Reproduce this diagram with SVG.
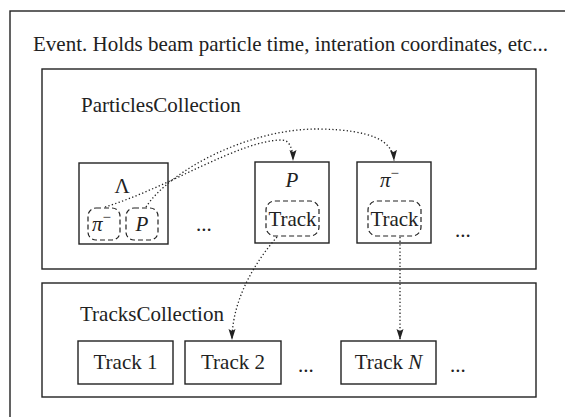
<svg xmlns="http://www.w3.org/2000/svg" width="565" height="417" viewBox="0 0 565 417" font-family="'Liberation Serif', 'Times New Roman', 'DejaVu Serif', serif">
<style>
.box{fill:#fff;stroke:#222;stroke-width:1.4}
.dbox{fill:none;stroke:#222;stroke-width:1.2;stroke-dasharray:5 3}
.t{font-family:'Liberation Serif','Times New Roman',serif;font-size:21px;fill:#222}
.m{text-anchor:middle}
.i{font-style:italic}
.c{fill:none;stroke:#222;stroke-width:1.3;stroke-dasharray:1.3 2.3}
</style>
<defs>
<marker id="ah" markerUnits="userSpaceOnUse" markerWidth="12" markerHeight="8" refX="11" refY="3.5" orient="auto">
<path d="M0,0 L11,3.5 L0,7 L2,3.5 z" fill="#222"/>
</marker>
</defs>
<rect x="0" y="0" width="565" height="417" fill="#fff"/>
<g id="event">
<rect class="box" x="10" y="11" width="600" height="460"/>
<text class="t" x="33" y="51">Event. Holds beam particle time, interation coordinates, etc...</text>
</g>
<g id="particles">
<rect class="box" x="42" y="69" width="494" height="200"/>
<text class="t" x="81" y="112">ParticlesCollection</text>
</g>
<g id="lambda">
<rect class="box" x="79" y="163" width="89" height="81"/>
<text class="t m" x="122" y="193">Λ</text>
<g id="lambda-pi">
<rect class="dbox" x="88" y="208" width="32" height="32" rx="8"/>
<text class="t i" x="92" y="231">π<tspan font-style="normal" font-size="15" dy="-9">−</tspan></text>
</g>
<g id="lambda-p">
<rect class="dbox" x="126" y="208" width="32" height="32" rx="8"/>
<text class="t i m" x="142" y="231">P</text>
</g>
</g>
<text class="t" x="196" y="231">...</text>
<g id="proton">
<rect class="box" x="255" y="162" width="74" height="81"/>
<text class="t i m" x="292" y="187">P</text>
<rect class="dbox" x="266" y="201" width="53" height="35" rx="9"/>
<text class="t m" x="292.5" y="226">Track</text>
</g>
<g id="pion">
<rect class="box" x="357" y="162" width="74" height="81"/>
<text class="t i" x="380" y="187">π<tspan font-style="normal" font-size="15" dy="-9">−</tspan></text>
<rect class="dbox" x="368" y="201" width="53" height="35" rx="9"/>
<text class="t m" x="394.5" y="226">Track</text>
</g>
<text class="t" x="455" y="237">...</text>
<g id="tracks">
<rect class="box" x="42" y="283" width="494" height="114"/>
<text class="t" x="80" y="321">TracksCollection</text>
</g>
<g id="track1">
<rect class="box" x="78" y="341" width="95" height="43"/>
<text class="t m" x="125.5" y="369">Track 1</text>
</g>
<g id="track2">
<rect class="box" x="185" y="341" width="96" height="43"/>
<text class="t m" x="233" y="369">Track 2</text>
</g>
<text class="t" x="298" y="372">...</text>
<g id="trackN">
<rect class="box" x="341" y="341" width="95" height="43"/>
<text class="t m" x="388.5" y="369">Track <tspan class="i">N</tspan></text>
</g>
<text class="t" x="450" y="372">...</text>
<g id="connectors">
<path class="c" d="M105,207 C170,187 240,140 282,140 C289,140 293,148 293,161" marker-end="url(#ah)"/>
<path class="c" d="M146,207 C170,170 250,128 320,129 C370,130 393,140 394,161" marker-end="url(#ah)"/>
<path class="c" d="M277,237 C255,262 232,300 232,340" marker-end="url(#ah)"/>
<path class="c" d="M400,237 L400,340" marker-end="url(#ah)"/>
</g>
</svg>
